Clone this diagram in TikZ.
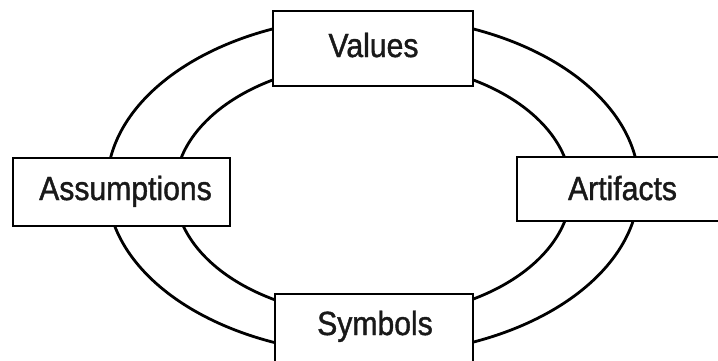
\documentclass[tikz,border=0pt]{standalone}
\usepackage{fontspec}
\setmainfont{Liberation Sans}[FakeStretch=0.9,FakeBold=1.2]
\begin{document}
\begin{tikzpicture}[x=1pt,y=-1pt,
  ring/.style={draw=black,line width=2.8pt},
  box/.style={draw=black,fill=white,line width=2.8pt,inner sep=0pt},
  lbl/.style={anchor=base,inner sep=0pt,font=\fontsize{33.5}{36}\selectfont,text=black!90}]
\useasboundingbox (0,0) rectangle (718,360);
\begin{scope}
\clip (0,0) rectangle (718,360);
% rings
\draw[ring] (373,185.5) ellipse [x radius=266, y radius=169];
\draw[ring] (373,189.5) ellipse [x radius=198, y radius=127];
% boxes
\node[box,minimum width=200pt,minimum height=75pt] (values) at (373,48.5) {};
\node[box,minimum width=217pt,minimum height=68pt] (assump) at (121.5,192) {};
\node[box,minimum width=212pt,minimum height=64pt] (artif) at (623,189) {};
\node[box,minimum width=198pt,minimum height=76pt] (symb) at (374,332) {};
% labels
\node[lbl] (tvalues) at (373.5,57) {Values};
\node[lbl] (tassump) at (125.5,200) {Assumptions};
\node[lbl] (tartif) at (622.5,200) {Artifacts};
\node[lbl] (tsymb) at (375,335) {Symbols};
\end{scope}
\end{tikzpicture}
\end{document}
